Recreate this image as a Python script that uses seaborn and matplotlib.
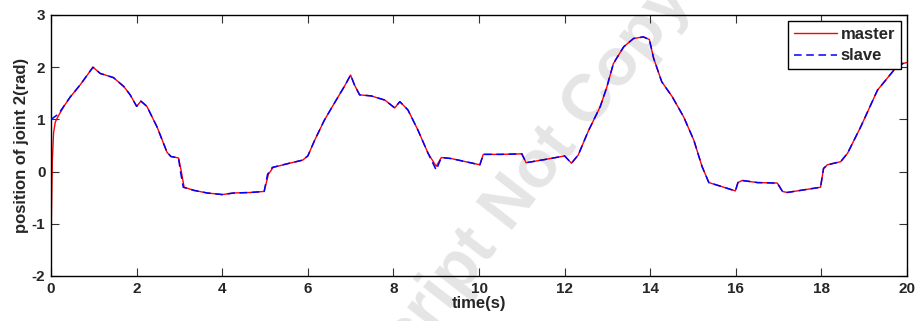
import matplotlib
matplotlib.use("Agg")
import matplotlib.pyplot as plt
import seaborn as sns
import pandas as pd

# slave (blue dashed) joint 2 position
slave_t = [0, 0.17, 0.45, 0.68, 0.98, 1.15, 1.46, 1.7, 1.85, 2.0,
           2.1, 2.24, 2.48, 2.71, 2.8, 2.98, 3.02, 3.09, 3.34, 3.65,
           4.0, 4.27, 4.66, 4.98, 5.06, 5.17, 5.52, 5.88, 6.0, 6.16,
           6.39, 6.62, 6.86, 7.0, 7.09, 7.21, 7.48, 7.8, 8.03, 8.15,
           8.34, 8.57, 8.81, 9.0, 9.12, 9.35, 10.02, 10.1, 10.52, 11.0,
           11.1, 11.53, 12.0, 12.16, 12.32, 12.55, 12.83, 12.98, 13.14, 13.38,
           13.61, 13.84, 13.98, 14.08, 14.27, 14.51, 14.78, 15.02, 15.21, 15.37,
           15.72, 15.99, 16.05, 16.15, 16.5, 16.97, 17.09, 17.2, 17.59, 17.98,
           18.05, 18.14, 18.45, 18.61, 18.92, 19.31, 19.7, 19.9, 20.0]
slave_y = [1.0, 1.1, 1.43, 1.66, 2.0, 1.88, 1.8, 1.63, 1.47, 1.25,
           1.35, 1.25, 0.85, 0.37, 0.29, 0.26, 0.02, -0.3, -0.36, -0.41,
           -0.44, -0.41, -0.4, -0.38, -0.05, 0.08, 0.15, 0.22, 0.3, 0.6,
           0.99, 1.31, 1.64, 1.85, 1.66, 1.47, 1.45, 1.37, 1.22, 1.34,
           1.18, 0.8, 0.35, 0.03, 0.27, 0.25, 0.13, 0.33, 0.33, 0.34,
           0.17, 0.23, 0.3, 0.16, 0.32, 0.77, 1.24, 1.6, 2.07, 2.39,
           2.55, 2.58, 2.53, 2.17, 1.72, 1.44, 1.05, 0.6, 0.1, -0.21,
           -0.3, -0.37, -0.21, -0.17, -0.21, -0.22, -0.38, -0.4, -0.35, -0.3,
           0.06, 0.13, 0.19, 0.35, 0.86, 1.56, 1.95, 2.07, 2.09]

# master (red solid): starts at -1.5 and catches up within ~0.4 s
master_t = [0, 0.01, 0.03, 0.06, 0.1, 0.16, 0.3, 0.45, 0.68, 0.98,
            1.15, 1.46, 1.7, 1.85, 2.0, 2.1, 2.24, 2.48, 2.71, 2.8,
            2.98, 3.04, 3.11, 3.34, 3.65, 4.0, 4.27, 4.66, 4.98, 5.08,
            5.19, 5.52, 5.88, 6.0, 6.16, 6.39, 6.62, 6.86, 7.0, 7.09,
            7.21, 7.48, 7.8, 8.03, 8.15, 8.34, 8.57, 8.81, 9.0, 9.12,
            9.35, 10.02, 10.1, 10.52, 11.0, 11.1, 11.53, 12.0, 12.16, 12.32,
            12.55, 12.83, 12.98, 13.14, 13.38, 13.61, 13.84, 13.98, 14.08, 14.27,
            14.51, 14.78, 15.02, 15.21, 15.37, 15.72, 15.99, 16.05, 16.15, 16.5,
            16.97, 17.09, 17.2, 17.59, 17.98, 18.05, 18.14, 18.45, 18.61, 18.92,
            19.31, 19.7, 19.9, 20.0]
master_y = [-1.5, -0.8, 0.2, 0.75, 0.95, 1.05, 1.25, 1.43, 1.66, 2.0,
            1.88, 1.8, 1.63, 1.47, 1.25, 1.35, 1.25, 0.85, 0.37, 0.29,
            0.26, 0.02, -0.3, -0.36, -0.41, -0.44, -0.41, -0.4, -0.38, -0.05,
            0.08, 0.15, 0.22, 0.3, 0.6, 0.99, 1.31, 1.64, 1.85, 1.66,
            1.47, 1.45, 1.37, 1.22, 1.34, 1.18, 0.8, 0.35, 0.1, 0.27,
            0.25, 0.13, 0.33, 0.33, 0.34, 0.17, 0.23, 0.3, 0.16, 0.32,
            0.77, 1.24, 1.6, 2.07, 2.39, 2.55, 2.58, 2.53, 2.17, 1.72,
            1.44, 1.05, 0.6, 0.1, -0.21, -0.3, -0.37, -0.21, -0.17, -0.21,
            -0.22, -0.38, -0.4, -0.35, -0.3, 0.06, 0.13, 0.19, 0.35, 0.86,
            1.56, 1.95, 2.07, 2.09]

x_ticks = [0, 2, 4, 6, 8, 10, 12, 14, 16, 18, 20]
y_ticks = [-2, -1, 0, 1, 2, 3]

sns.set_style("ticks")
plt.rcParams['font.family'] = ['Liberation Sans', 'DejaVu Sans']
plt.rcParams['font.weight'] = 'bold'
plt.rcParams['axes.unicode_minus'] = False

df_master = pd.DataFrame({"t": master_t, "pos": master_y})
df_slave = pd.DataFrame({"t": slave_t, "pos": slave_y})

fig = plt.figure(figsize=(9.21, 3.21), dpi=100)
ax = fig.add_axes([0.0554, 0.1402, 0.9294, 0.8131])
ax.set_facecolor('none')

# faint watermark behind the axes (runs off the picture, as in the source)
fig.text(0.472, 0.062, "Accepted Manuscript Not Copyedited", fontsize=48,
         fontweight='bold', color='#e5e5e5', rotation=52, ha='center',
         va='center', rotation_mode='anchor', zorder=-5)

sns.lineplot(data=df_master, x="t", y="pos", ax=ax, color='#ff0000',
             linewidth=1.0, label='master', sort=False, estimator=None,
             zorder=2)
sns.lineplot(data=df_slave, x="t", y="pos", ax=ax, color='#0000ff',
             linewidth=1.1, label='slave', sort=False, estimator=None,
             zorder=3)
ax.lines[1].set_dashes((5, 3))

ax.set_xlim(0, 20)
ax.set_ylim(-2, 3)
ax.set_xticks(x_ticks)
ax.set_yticks(y_ticks)
ax.tick_params(direction='in', length=6, width=0.8, top=True, right=True,
               labelsize=11, pad=4, color='#333333')
for lab in ax.get_xticklabels() + ax.get_yticklabels():
    lab.set_fontweight('bold')
for sp in ax.spines.values():
    sp.set_visible(True)
    sp.set_linewidth(1.0)
    sp.set_color('black')

ax.set_xlabel("time(s)", fontsize=12, fontweight='bold', labelpad=0)
ax.set_ylabel("position of joint 2(rad)", fontsize=12, fontweight='bold',
              labelpad=2)

leg = ax.legend(loc='upper right', fontsize=12,
                frameon=True, fancybox=False, framealpha=1, edgecolor='black',
                handlelength=2.6, handletextpad=0.2, borderaxespad=0.36,
                borderpad=0.35, labelspacing=0.4)
leg.get_frame().set_linewidth(1.0)
leg.get_lines()[1].set_dashes((5, 3))

fig.savefig("out.png", dpi=100)
